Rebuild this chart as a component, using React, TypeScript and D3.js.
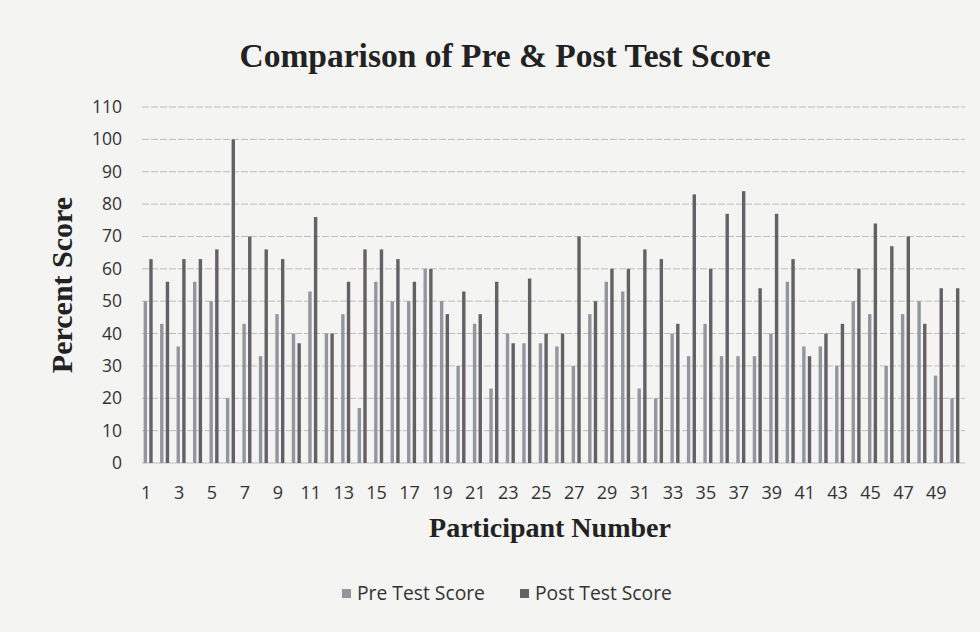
import React from 'react';
import * as d3 from 'd3';

// Participant ids 1..50 and the two score series
const participants = [
  1, 2, 3, 4, 5, 6, 7, 8, 9, 10, 11, 12, 13, 14, 15, 16, 17, 18, 19, 20, 21, 22, 23, 24, 25,
  26, 27, 28, 29, 30, 31, 32, 33, 34, 35, 36, 37, 38, 39, 40, 41, 42, 43, 44, 45, 46, 47, 48, 49, 50,
];

const preScores = [
  50, 43, 36, 56, 50, 20, 43, 33, 46, 40, 53, 40, 46, 17, 56, 50, 50, 60, 50, 30, 43, 23, 40, 37, 37,
  36, 30, 46, 56, 53, 23, 20, 40, 33, 43, 33, 33, 33, 40, 56, 36, 36, 30, 50, 46, 30, 46, 50, 27, 20,
];

const postScores = [
  63, 56, 63, 63, 66, 100, 70, 66, 63, 37, 76, 40, 56, 66, 66, 63, 56, 60, 46, 53, 46, 56, 37, 57, 40,
  40, 70, 50, 60, 60, 66, 63, 43, 83, 60, 77, 84, 54, 77, 63, 33, 40, 43, 60, 74, 67, 70, 43, 54, 54,
];

const yTicks = [0, 10, 20, 30, 40, 50, 60, 70, 80, 90, 100, 110];
const seriesNames = ['Pre Test Score', 'Post Test Score'];
const seriesColors = ['#94969f', '#646166'];

const W = 980;
const H = 632;
const plot = { left: 140, right: 963, top: 107, bottom: 463 };

export default function App() {
  const x = d3
    .scaleBand<number>()
    .domain(participants)
    .range([plot.left, plot.right])
    .paddingInner(0.45)
    .paddingOuter(0.22);

  const inner = d3
    .scaleBand<number>()
    .domain([0, 1])
    .range([0, x.bandwidth()])
    .paddingInner(0.4);

  const y = d3.scaleLinear().domain([0, 110]).range([plot.bottom, plot.top]);

  const series = [preScores, postScores];
  const sans = "'Open Sans', 'Liberation Sans', sans-serif";
  const serif = "'Liberation Serif', 'DejaVu Serif', serif";

  return (
    <svg
      width={W}
      height={H}
      style={{ position: 'absolute', left: 0, top: 0, background: '#f4f4f2' }}
    >
      <rect x={0} y={0} width={W} height={H} fill="#f4f4f2" />

      <text
        x={505}
        y={67}
        textAnchor="middle"
        fontFamily={serif}
        fontWeight="bold"
        fontSize={33.5}
        fill="#222"
      >
        Comparison of Pre &amp; Post Test Score
      </text>

      {/* gridlines */}
      {yTicks.map(t => (
        <line
          key={'g' + t}
          x1={plot.left + 2}
          x2={plot.right + 2}
          y1={y(t)}
          y2={y(t)}
          stroke="#bdbdbd"
          strokeWidth={1}
          strokeDasharray={t === 0 ? undefined : '7 2'}
        />
      ))}

      {/* y tick labels */}
      {yTicks.map(t => (
        <text
          key={'t' + t}
          x={122}
          y={y(t) + 6}
          textAnchor="end"
          fontFamily={sans}
          fontSize={17.5}
          fill="#333"
        >
          {t}
        </text>
      ))}

      {/* bars */}
      {participants.map((p, i) => (
        <g key={'p' + p} transform={`translate(${x(p)},0)`}>
          {series.map((s, k) => (
            <rect
              key={k}
              x={inner(k)}
              y={y(s[i])}
              width={inner.bandwidth()}
              height={y(0) - y(s[i])}
              fill={seriesColors[k]}
            />
          ))}
        </g>
      ))}

      {/* x tick labels, odd participants only */}
      {participants
        .filter(p => p % 2 === 1)
        .map(p => (
          <text
            key={'x' + p}
            x={(x(p) as number) + x.bandwidth() / 2 - 2}
            y={499}
            textAnchor="middle"
            fontFamily={sans}
            fontSize={18}
            fill="#333"
          >
            {p}
          </text>
        ))}

      <text
        x={550}
        y={537}
        textAnchor="middle"
        fontFamily={serif}
        fontWeight="bold"
        fontSize={28}
        fill="#222"
      >
        Participant Number
      </text>

      <text
        transform={`translate(72,${285}) rotate(-90)`}
        textAnchor="middle"
        fontFamily={serif}
        fontWeight="bold"
        fontSize={30}
        fill="#222"
      >
        Percent Score
      </text>

      {/* legend */}
      {seriesNames.map((name, k) => {
        const lx = k === 0 ? 342 : 520;
        return (
          <g key={name} transform={`translate(${lx},594)`}>
            <rect x={0} y={-5} width={9} height={9} fill={seriesColors[k]} />
            <text x={15} y={6} fontFamily={sans} fontSize={19.3} fill="#333">
              {name}
            </text>
          </g>
        );
      })}
    </svg>
  );
}
